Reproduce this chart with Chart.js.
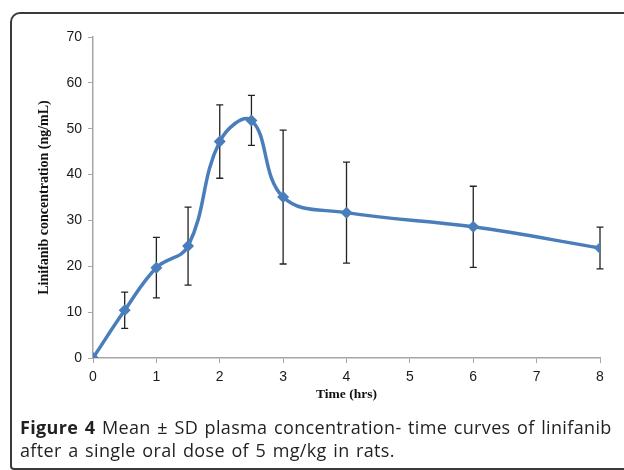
<!DOCTYPE html>
<html>
<head>
<meta charset="utf-8">
<script src="https://cdn.jsdelivr.net/npm/chart.js@4"></script>
<style>
  html, body { margin: 0; padding: 0; background: #fff; }
  #wrap { position: relative; width: 624px; height: 470px; overflow: hidden; }
  #frame {
    position: absolute; left: 10px; top: 12px; width: 700px; height: 454px;
    border: 2px solid #3a3a3a; border-top-left-radius: 10px; border-bottom-left-radius: 4px;
  }
  #chart { position: absolute; left: 0; top: 0; }
  #caption {
    position: absolute; left: 20px; top: 416px; width: 620px;
    font-family: "Open Sans", "Noto Sans", sans-serif; font-size: 18px;
    letter-spacing: 0.35px; word-spacing: 1.5px;
    line-height: 23px; color: #231f20; white-space: nowrap;
  }
  #caption b { font-weight: bold; }
</style>
</head>
<body>
<div id="wrap">
  <div id="frame"></div>
  <canvas id="chart" width="624" height="470"></canvas>
  <div id="caption"><b>Figure 4</b> Mean ± SD plasma concentration- time curves of linifanib<br>after a single oral dose of 5 mg/kg in rats.</div>
</div>
<script>
// du lieu doc tu hinh
const times = [0, 0.5, 1, 1.5, 2, 2.5, 3, 4, 6, 8];
const meanConc = [0, 10.4, 19.7, 24.4, 47.2, 51.8, 35.1, 31.7, 28.6, 24.0];
const sdConc = [0, 3.95, 6.6, 8.5, 8.0, 5.45, 14.6, 11.0, 8.85, 4.55];
const xTicks = [0, 1, 2, 3, 4, 5, 6, 7, 8];

const lineColor = '#4a7ebb';
const axisColor = '#a6a6a6';

// plugin ve thanh sai so
const errorBars = {
    id: 'errorBars',
    beforeDatasetsDraw(chart) {
        const ctx = chart.ctx;
        const xs = chart.scales.x;
        const ys = chart.scales.y;
        ctx.save();
        ctx.strokeStyle = '#222';
        ctx.lineWidth = 1.3;
        times.forEach((t, i) => {
            if (!sdConc[i]) return;
            const px = xs.getPixelForValue(t);
            const top = ys.getPixelForValue(meanConc[i] + sdConc[i]);
            const bot = ys.getPixelForValue(meanConc[i] - sdConc[i]);
            ctx.beginPath();
            ctx.moveTo(px, top); ctx.lineTo(px, bot);
            ctx.moveTo(px - 3.5, top); ctx.lineTo(px + 3.5, top);
            ctx.moveTo(px - 3.5, bot); ctx.lineTo(px + 3.5, bot);
            ctx.stroke();
        });
        ctx.restore();
    }
};

const ctx = document.getElementById('chart').getContext('2d');
const chart = new Chart(ctx, {
    type: 'line',
    data: {
        datasets: [{
            data: times.map((t, i) => ({ x: t, y: meanConc[i] })),
            borderColor: lineColor,
            backgroundColor: lineColor,
            borderWidth: 3.5,
            tension: 0.4,
            pointStyle: 'rectRot',
            pointRadius: 6,
            pointBorderWidth: 0,
            fill: false
        }]
    },
    options: {
        responsive: false,
        animation: false,
        layout: {
            padding: { left: 36, top: 37, right: 24, bottom: 67 }
        },
        plugins: {
            legend: { display: false },
            tooltip: { enabled: false }
        },
        scales: {
            x: {
                type: 'linear',
                min: 0,
                max: 8,
                afterBuildTicks(scale) {
                    scale.ticks = xTicks.map(v => ({ value: v }));
                },
                afterFit(scale) { scale.height = 45; },
                grid: {
                    drawOnChartArea: false,
                    drawTicks: true,
                    tickLength: 5,
                    color: axisColor
                },
                border: { color: axisColor, width: 1.5 },
                ticks: {
                    padding: 6,
                    color: '#1a1a1a',
                    font: { family: 'Liberation Sans', size: 14 },
                    maxRotation: 0
                },
                title: {
                    display: true,
                    text: 'Time (hrs)',
                    color: '#111',
                    padding: 0,
                    font: { family: 'Liberation Serif', size: 13.5, weight: 'bold' }
                }
            },
            y: {
                min: 0,
                max: 70,
                afterFit(scale) { scale.width = 57; },
                grid: {
                    drawOnChartArea: false,
                    drawTicks: true,
                    tickLength: 5,
                    color: axisColor
                },
                border: { color: axisColor, width: 1.5 },
                ticks: {
                    stepSize: 10,
                    padding: 6,
                    color: '#1a1a1a',
                    font: { family: 'Liberation Sans', size: 14 }
                },
                title: {
                    display: true,
                    text: 'Linifanib concentration (ng/mL)',
                    color: '#111',
                    padding: 0,
                    font: { family: 'Liberation Serif', size: 14, weight: 'bold' }
                }
            }
        }
    },
    plugins: [errorBars]
});
</script>
</body>
</html>
